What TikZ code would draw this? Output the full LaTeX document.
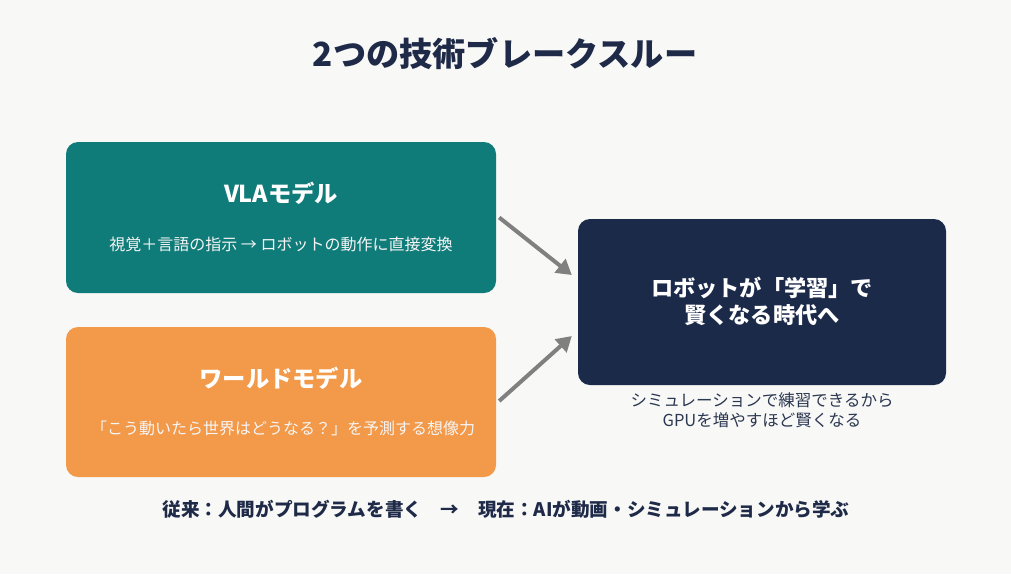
\documentclass[tikz,border=0pt]{standalone}
\usepackage{fontspec}
\setmainfont{Noto Sans CJK JP}
\usetikzlibrary{arrows.meta,calc}

\begin{document}
\begin{tikzpicture}[x=1pt,y=-1pt,
  box/.style={rounded corners=12pt, inner sep=0pt},
  boxtitle/.style={font=\fontsize{23.3}{27}\selectfont\bfseries, text=white},
  boxtext/.style={font=\fontsize{16}{19}\selectfont, text=white!96!black},
  flow/.style={draw=arrowgray, line width=4pt, -{Triangle[length=15pt,width=17pt]}}]
  % Define colors
  \definecolor{bgcol}{RGB}{248,248,246}
  \definecolor{navy}{RGB}{30,42,71}
  \definecolor{vlacol}{RGB}{16,124,121}
  \definecolor{worldcol}{RGB}{242,153,74}
  \definecolor{goalcol}{RGB}{28,42,74}
  \definecolor{arrowgray}{RGB}{128,128,128}
  \definecolor{notecol}{RGB}{44,56,82}

  % Background and frame
  \fill[bgcol] (0,0) rectangle (1011,574);
  \useasboundingbox (0,0) rectangle (1011,574);

  % Title
  \node[font=\fontsize{33.2}{37}\selectfont\bfseries, text=navy] (title) at (505,54) {2つの技術ブレークスルー};

  % Draw the three boxes
  \node[box, fill=vlacol, minimum width=430, minimum height=151] (vla) at (281,217.5) {};
  \node[box, fill=worldcol, minimum width=430, minimum height=150] (world) at (281,402) {};
  \node[box, fill=goalcol, minimum width=368, minimum height=166] (goal) at (762,302) {};

  % Add box labels
  \node[boxtitle] (vlatitle) at (281,193) {VLAモデル};
  \node[boxtext] (vlatext) at (281,244) {視覚＋言語の指示 → ロボットの動作に直接変換};
  \node[boxtitle] (worldtitle) at (281,378) {ワールドモデル};
  \node[boxtext] (worldtext) at (283,428) {「こう動いたら世界はどうなる？」を予測する想像力};
  \node[font=\fontsize{22.2}{27}\selectfont\bfseries, text=white, align=center] (goaltext) at (762,301) {ロボットが「学習」で\\賢くなる時代へ};

  % Add note below the goal box
  \node[font=\fontsize{16.5}{20}\selectfont, text=notecol, align=center] (goalnote) at (762,410) {シミュレーションで練習できるから\\GPUを増やすほど賢くなる};

  % Draw arrows
  \draw[flow] ($(vla.east)+(3,0)$) -- ($(goal.west)+(-6,-27)$);
  \draw[flow] ($(world.east)+(3,-1)$) -- ($(goal.west)+(-6,34)$);

  % Bottom summary
  \node[font=\fontsize{18.6}{21}\selectfont\bfseries, text=navy] (summary) at (506,509) {従来：人間がプログラムを書く　→　現在：AIが動画・シミュレーションから学ぶ};
\end{tikzpicture}
\end{document}
